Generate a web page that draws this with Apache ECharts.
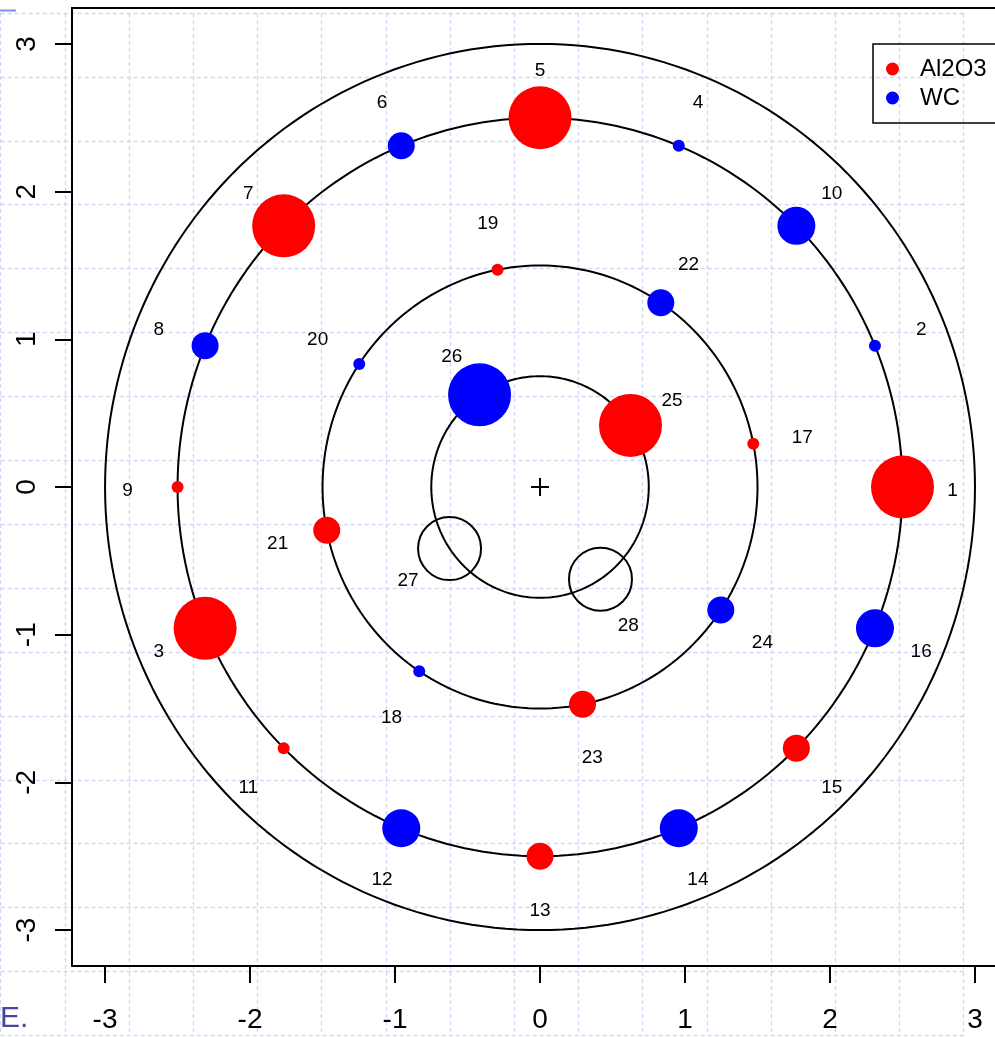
<!DOCTYPE html>
<html>
<head>
<meta charset="utf-8">
<script src="https://cdn.jsdelivr.net/npm/echarts@6/dist/echarts.min.js"></script>
<style>
html,body{margin:0;padding:0;background:#fff;}
#chart{width:995px;height:1037px;}
</style>
</head>
<body>
<div id="chart"></div>
<script>
// ---- data ----
const ids      = [1,2,3,4,5,6,7,8,9,10,11,12,13,14,15,16,17,18,19,20,21,22,23,24,25,26,27,28];
const xs       = [2.5, 2.31, -2.31, 0.957, 0, -0.957, -1.768, -2.31, -2.5, 1.768, -1.768, -0.957, 0, 0.957, 1.768, 2.31,
                  1.471, -0.833, -0.293, -1.247, -1.471, 0.833, 0.293, 1.247,
                  0.624, -0.417, -0.624, 0.417];
const ys       = [0, 0.957, -0.957, 2.31, 2.5, 2.31, 1.768, 0.957, 0, 1.768, -1.768, -2.31, -2.5, -2.31, -1.768, -0.957,
                  0.293, -1.247, 1.471, 0.833, -0.293, 1.247, -1.471, -0.833,
                  0.417, 0.624, -0.417, -0.624];
const material = ['Al2O3','WC','Al2O3','WC','Al2O3','WC','Al2O3','WC','Al2O3','WC','Al2O3','WC','Al2O3','WC','Al2O3','WC',
                  'Al2O3','WC','Al2O3','WC','Al2O3','WC','Al2O3','WC',
                  'Al2O3','WC','none','none'];
const sizeLevel = [4,1,4,1,4,2,4,2,1,3,1,3,2,3,2,3,
                   1,1,1,1,2,2,2,2,
                   4,4,4,4];
const ringRadii = [0.75, 1.5, 2.5, 3];
const tickValues = [-3,-2,-1,0,1,2,3];
const seriesNames = ['Al2O3','WC'];

// ---- styling ----
const FONT = "'Liberation Sans', Arial, Helvetica, sans-serif";
const levelPx = {1:12, 2:27, 3:38, 4:63};
const colors = {'Al2O3':'#ff0000', 'WC':'#0000ff'};
const labelOffset = 0.345;

function circlePts(r){
  const a=[];
  for(let i=0;i<=240;i++){const t=i/240*2*Math.PI; a.push([r*Math.cos(t), r*Math.sin(t)]);}
  return a;
}
function pointsOf(mat){
  const out=[];
  ids.forEach((id,i)=>{ if(material[i]===mat) out.push([xs[i], ys[i], levelPx[sizeLevel[i]]]); });
  return out;
}
const labelData = ids.map((id,i)=>{
  const r = Math.hypot(xs[i], ys[i]);
  const f = (r + labelOffset) / r;
  return {value:[xs[i]*f, ys[i]*f], name:String(id)};
});

const series = [];
ringRadii.forEach(r=>{
  series.push({type:'line', xAxisIndex:0, yAxisIndex:0, data:circlePts(r), showSymbol:false, symbol:'none',
    lineStyle:{color:'#000', width:2}, silent:true, z:3});
});
series.push({type:'scatter', name:'open', xAxisIndex:0, yAxisIndex:0, data:pointsOf('none'),
  symbolSize:v=>v[2], itemStyle:{color:'none', borderColor:'#000', borderWidth:2, opacity:1}, z:4});
seriesNames.forEach(n=>{
  series.push({type:'scatter', name:n, xAxisIndex:0, yAxisIndex:0, data:pointsOf(n),
    symbolSize:v=>v[2], itemStyle:{color:colors[n], opacity:1}, z:5});
});
series.push({type:'scatter', name:'center', xAxisIndex:0, yAxisIndex:0, data:[[0,0]],
  symbol:'path://M10,0L10,20M0,10L20,10', symbolSize:18,
  itemStyle:{color:'none', borderColor:'#000', borderWidth:2, opacity:1}, z:5});
series.push({type:'scatter', name:'labels', xAxisIndex:0, yAxisIndex:0, data:labelData,
  symbolSize:1, itemStyle:{color:'none', opacity:1},
  label:{show:true, position:'inside', offset:[0,4], formatter:p=>p.name, color:'#000', fontSize:19, fontFamily:FONT,
         textBorderWidth:0, opacity:1}, z:6});

const axisLine = {show:true, onZero:false, lineStyle:{color:'#000', width:2}};
const option = {
  animation:false,
  backgroundColor:'#fff',
  grid:[
    {left:72, top:8, height:958, right:0, show:false, z:2},
    {left:0.7, top:13, width:963, height:1022.4, show:false, z:0}
  ],
  xAxis:[
    {type:'value', gridIndex:0, position:'bottom', min:-3.228, max:3.138, splitLine:{show:false}, axisLine:axisLine,
     axisTick:{show:true, customValues:tickValues, length:17, lineStyle:{color:'#000', width:2}},
     axisLabel:{show:true, customValues:tickValues, fontSize:28, fontFamily:FONT, color:'#000', margin:40, formatter:v=>String(v)}},
    {type:'value', gridIndex:1, min:0, max:15, interval:1, axisLine:{show:false}, axisTick:{show:false}, axisLabel:{show:false},
     splitLine:{show:true, lineStyle:{color:'#d0d8f6', width:1.3, type:[4,3]}}},
    {type:'value', gridIndex:0, position:'top', min:-3.228, max:3.138, splitLine:{show:false}, axisLine:axisLine,
     axisTick:{show:false}, axisLabel:{show:false}}
  ],
  yAxis:[
    {type:'value', gridIndex:0, min:-3.243, max:3.243, splitLine:{show:false}, axisLine:axisLine,
     axisTick:{show:true, customValues:tickValues, length:17, lineStyle:{color:'#000', width:2}},
     axisLabel:{show:true, customValues:tickValues, rotate:90, fontSize:28, fontFamily:FONT, color:'#000', margin:31, formatter:v=>String(v)}},
    {type:'value', gridIndex:1, min:0, max:16, interval:1, axisLine:{show:false}, axisTick:{show:false}, axisLabel:{show:false},
     splitLine:{show:true, lineStyle:{color:'#d0d8f6', width:1.3, type:[4,3]}}}
  ],
  legend:{
    data:seriesNames, orient:'vertical', left:873, top:44, padding:[13,10,12,13], itemGap:5,
    itemWidth:13, itemHeight:13, icon:'circle', borderWidth:0,
    selectedMode:false,
    textStyle:{fontSize:24, fontFamily:FONT, color:'#000', padding:[0,0,0,16], lineHeight:24}
  },
  graphic:[
    {type:'rect', shape:{x:873, y:44, width:200, height:79}, style:{fill:'none', stroke:'#000', lineWidth:1.5}, silent:true, z:10},
    {type:'line', shape:{x1:0, y1:10.5, x2:16, y2:10.5}, style:{stroke:'#7d8ef2', lineWidth:2}, silent:true},
    {type:'text', left:0, top:1004, style:{text:'E.', fontSize:30, fontFamily:FONT, fill:'#47479c'}, silent:true}
  ],
  series:series
};
const chart = echarts.init(document.getElementById('chart'), null, {renderer:'canvas'});
chart.setOption(option);
</script>
</body>
</html>
